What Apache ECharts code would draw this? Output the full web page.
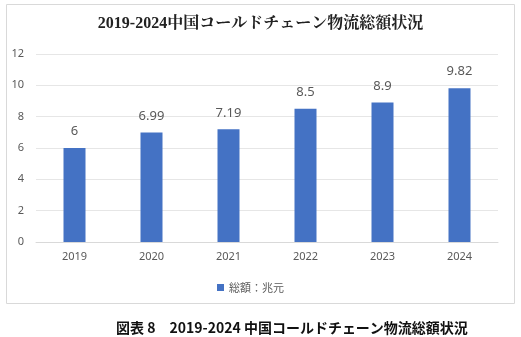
<!DOCTYPE html>
<html><head><meta charset="utf-8">
<script src="https://cdn.jsdelivr.net/npm/echarts@6/dist/echarts.min.js"></script>
<style>html,body{margin:0;padding:0;background:#fff}#c{width:521px;height:337px}</style>
</head><body><div id="c"></div>
<script>
const categories = ['2019','2020','2021','2022','2023','2024'];
const values = [6, 6.99, 7.19, 8.5, 8.9, 9.82];
const seriesName = '総額：兆元';
const chartTitle = '2019-2024中国コールドチェーン物流総額状況';
const caption = '図表 8　2019-2024 中国コールドチェーン物流総額状況';

const chart = echarts.init(document.getElementById('c'));
chart.setOption({
  animation: false,
  graphic: [{type:'rect', shape:{x:6.5,y:4.5,width:508,height:299}, style:{fill:'none', stroke:'#d9d9d9', lineWidth:1}}],
  title: [
    {text: chartTitle, left:'center', top:11, textStyle:{fontFamily:'"Liberation Serif","Noto Serif CJK JP","Noto Sans CJK JP",serif', fontSize:16, fontWeight:'bold', color:'#222'}},
    {text: caption, left:111, top:316, textStyle:{fontFamily:'"Noto Sans CJK JP"', fontSize:14, fontWeight:'bold', color:'#111'}}
  ],
  legend: {data:[seriesName], top:277, left:212, itemWidth:7, itemHeight:7, icon:'rect', textStyle:{fontFamily:'"Noto Sans CJK JP"', fontSize:11, color:'#595959'}},
  grid: {left:36, right:23, top:54, bottom:95, containLabel:false},
  xAxis: {type:'category', data:categories, axisTick:{show:false}, axisLine:{lineStyle:{color:'#d9d9d9'}}, axisLabel:{color:'#595959', fontSize:11, margin:9, fontFamily:'"Noto Sans", sans-serif'}},
  yAxis: {type:'value', min:0, max:12, interval:2, axisLabel:{color:'#595959', fontSize:11, margin:12, fontFamily:'"Noto Sans", sans-serif'}, splitLine:{lineStyle:{color:'#e6e6e6'}}, axisLine:{show:false}, axisTick:{show:false}},
  series: [{name:seriesName, type:'bar', data:values, barWidth:22, itemStyle:{color:'#4472c4'},
    label:{show:true, position:'top', distance:10, color:'#595959', fontSize:13, fontFamily:'"Noto Sans", sans-serif'}}]
});
</script></body></html>
